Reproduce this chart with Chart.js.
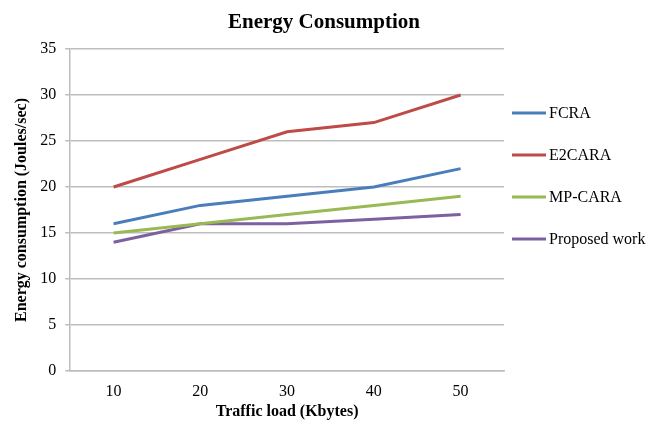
<!DOCTYPE html>
<html>
<head>
<meta charset="utf-8">
<script src="https://cdn.jsdelivr.net/npm/chart.js@4/dist/chart.umd.min.js"></script>
<style>
  html, body { margin: 0; padding: 0; background: #fff; }
  #wrap { width: 648px; height: 421px; }
</style>
</head>
<body>
<div id="wrap"><canvas id="energyChart"></canvas></div>
<script>
const loads = ['10', '20', '30', '40', '50'];
const fcra = [16, 18, 19, 20, 22];
const e2cara = [20, 23, 26, 27, 30];
const mpCara = [15, 16, 17, 18, 19];
const proposed = [14, 16, 16, 16.5, 17];

const serif = "'Liberation Serif', 'Times New Roman', serif";

// titre, titre de l'axe X et légende façon Excel, dessinés à la main
const excelDecor = {
  id: 'excelDecor',
  afterDraw(chart) {
    const c = chart.ctx;
    const area = chart.chartArea;
    c.save();
    c.fillStyle = '#000';
    c.font = 'bold 21px ' + serif;
    c.textAlign = 'center';
    c.textBaseline = 'middle';
    c.fillText('Energy Consumption', chart.width / 2, 23);

    c.font = 'bold 16px ' + serif;
    c.fillText('Traffic load (Kbytes)', (area.left + area.right) / 2, 412);

    c.font = '16px ' + serif;
    c.textAlign = 'left';
    chart.data.datasets.forEach((ds, i) => {
      const y = area.top + 64 + i * 42;
      const x = area.right + 8;
      c.strokeStyle = ds.borderColor;
      c.lineWidth = 3;
      c.beginPath();
      c.moveTo(x, y);
      c.lineTo(x + 34, y);
      c.stroke();
      c.fillText(ds.label, x + 37, y + 1);
    });
    c.restore();
  }
};

const ctx = document.getElementById('energyChart').getContext('2d');

new Chart(ctx, {
  type: 'line',
  data: {
    labels: loads,
    datasets: [
      { label: 'FCRA', data: fcra, borderColor: '#4a7ebb', backgroundColor: '#4a7ebb' },
      { label: 'E2CARA', data: e2cara, borderColor: '#be4b48', backgroundColor: '#be4b48' },
      { label: 'MP-CARA', data: mpCara, borderColor: '#98b954', backgroundColor: '#98b954' },
      { label: 'Proposed work', data: proposed, borderColor: '#7d60a0', backgroundColor: '#7d60a0' }
    ]
  },
  options: {
    responsive: true,
    maintainAspectRatio: false,
    animation: false,
    layout: { padding: { top: 49, left: 12, right: 144, bottom: 8 } },
    elements: {
      line: { borderWidth: 3, tension: 0 },
      point: { radius: 0 }
    },
    plugins: {
      title: { display: false },
      tooltip: { enabled: false },
      legend: { display: false }
    },
    scales: {
      x: {
        offset: true,
        grid: { display: false, drawTicks: false, tickLength: 0 },
        border: { display: true, color: '#bdbdbd', width: 1.5 },
        ticks: { font: { family: serif, size: 16, lineHeight: 1 }, color: '#000', padding: 13 },
        title: { display: false }
      },
      y: {
        min: 0,
        max: 35,
        ticks: { stepSize: 5, font: { family: serif, size: 16 }, color: '#000', padding: 9 },
        grid: { color: '#bdbdbd', lineWidth: 1.5, tickLength: 5 },
        border: { color: '#bdbdbd', width: 1.5 },
        title: {
          display: true,
          text: 'Energy consumption (Joules/sec)',
          font: { family: serif, size: 16, weight: 'bold' },
          color: '#000',
          padding: { top: 0, bottom: 0 }
        }
      }
    }
  },
  plugins: [excelDecor]
});
</script>
</body>
</html>
